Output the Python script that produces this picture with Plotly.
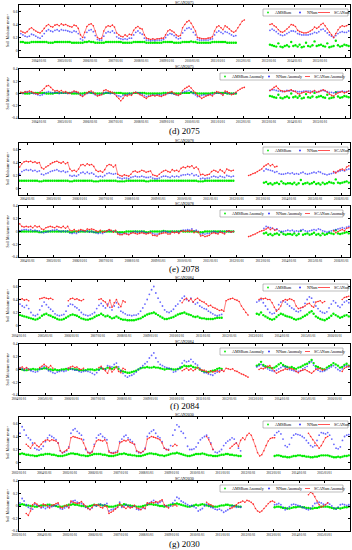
import pandas as pd
import plotly.graph_objects as go

N = None
W, H = 352, 550

# ---------------- data (monthly values, in 0.01 m3/m3) ----------------
# SCAN2075, months from 2003-04
scan_2075 = [30,28,27,29,33,35,32,30,28,
 27,30,34,38,40,37,36,39,40,38,41,39,
 40,38,37,36,39,38,34,24,20,28,37,40,
 41,38,30,20,18,19,30,36,38,37,39,36,
 27,24,22,21,24,22,25,24,31,35,37,34,
 33,24,19,18,17,18,17,18,18,19,19,24,
 30,32,30,28,24,22,23,35,40,44,46,42,
 36,30,20,19,18,18,18,19,19,21,30,36,
 38,35,32,38,36,33,30,28,30,35,40,45,
 47,N,N,N,N,N,N,N,N,N,N,N,
 40,41,38,36,32,29,28,30,33,36,40,39,
 37,31,29,28,27,27,28,30,32,36,34,36,
 40,42,38,33,28,24,20,26,32,36,38,37,
 38,40]
nn_2075 = [26,24,22,21,22,25,24,22,20,
 19,22,26,30,32,30,29,31,32,30,32,31,
 31,30,29,28,30,29,26,18,16,20,28,31,
 32,29,23,17,16,16,22,27,29,28,30,27,
 21,19,18,17,18,17,19,19,24,28,30,27,
 25,19,16,16,15,16,15,16,16,16,17,20,
 24,26,25,23,20,18,19,27,31,34,35,33,
 28,24,17,16,16,16,16,16,17,18,24,28,
 30,28,26,29,28,26,24,22,23,N,N,N,
 N,N,N,N,N,N,N,N,N,N,N,N,
 31,33,31,29,26,24,23,24,26,28,30,30,
 29,26,25,24,24,24,24,25,26,28,27,29,
 32,33,30,27,24,22,20,23,26,28,29,28,
 28,30]
amsr_2075 = [13,13,12,12,12,13,13,13,13,
 13,13,13,13,12,12,12,13,13,13,13,13,
 13,13,13,12,12,12,12,12,12,13,13,14,
 13,13,12,12,12,12,12,13,13,13,13,13,
 13,13,13,12,12,12,12,12,13,13,13,13,
 13,13,12,12,12,12,12,12,12,12,13,13,
 13,13,13,12,12,12,12,13,13,13,13,14,
 13,13,12,12,12,12,12,12,12,13,13,13,
 13,13,13,13,12,12,12,12,12,N,N,N,
 N,N,N,N,N,N,N,N,N,N,N,N,
 9,8,7,6,11,6,5,7,8,6,13,7,
 8,6,9,5,6,12,7,6,8,14,7,8,
 9,7,6,11,5,6,7,15,8,6,7,9,
 8,7]
scan_anom_2075 = [2,1,3,2,4,3,1,0,-1,
 2,5,8,12,13,10,6,4,5,3,5,2,
 3,1,0,2,4,3,2,-3,-5,-2,1,3,
 4,2,-1,-4,-3,-2,5,6,4,3,2,0,
 -5,-8,-12,-8,-3,-4,-2,-3,1,2,0,-2,
 -3,-6,-8,-5,-4,-3,-4,-3,-4,-5,-3,-2,
 1,2,3,0,-2,-3,-1,5,8,10,12,9,
 4,1,-3,-5,-8,-6,-4,-3,-2,-4,0,3,
 2,0,-3,4,3,1,-2,-1,2,5,7,9,
 10,N,N,N,N,N,N,N,N,N,N,N,
 5,7,10,12,8,5,4,3,4,5,6,4,
 3,0,-1,1,2,3,2,1,3,5,2,3,
 4,6,5,2,-1,-3,-4,-1,1,2,3,1,
 2,4]
nn_anom_2075 = [1,0,2,3,2,1,0,-1,-2,
 -3,-2,0,2,3,2,1,2,2,0,1,1,
 1,0,1,2,3,2,1,-2,-3,-1,0,1,
 2,0,-2,-3,-2,-1,1,2,1,0,1,-1,
 -3,-4,-5,-3,-2,-2,0,-1,1,2,1,0,
 -1,-3,-5,-4,-3,-2,-3,-2,-2,-3,-2,-1,
 0,1,0,-1,-2,-3,-1,2,3,4,5,3,
 0,-2,-5,-4,-3,-2,-3,-2,-1,-2,0,1,
 1,0,-1,2,1,0,-1,0,1,N,N,N,
 N,N,N,N,N,N,N,N,N,N,N,N,
 5,6,6,5,4,4,3,4,5,4,5,4,
 4,3,3,3,4,4,4,4,3,4,2,3,
 5,5,4,3,2,2,1,2,3,3,4,3,
 3,4]
amsr_anom_2075 = [1,1,0,0,0,1,1,1,1,
 1,1,1,0,0,0,0,1,1,1,1,1,
 1,1,1,0,0,0,0,0,0,1,1,2,
 1,1,0,0,0,0,0,1,1,1,1,1,
 1,1,1,0,0,0,0,0,1,1,1,1,
 1,1,0,0,0,0,0,0,0,0,1,1,
 1,1,1,0,0,0,0,1,1,1,1,2,
 1,1,0,0,0,0,0,0,0,1,1,1,
 1,1,1,1,0,0,0,0,0,N,N,N,
 N,N,N,N,N,N,N,N,N,N,N,N,
 -4,-5,-6,-7,-2,-7,-8,-6,-5,-7,0,-6,
 -5,-7,-4,-8,-7,-1,-6,-7,-5,1,-6,-5,
 -4,-6,-7,-2,-8,-7,-6,2,-5,-7,-6,-4,
 -5,-6]

# SCAN2078, months from 2003-09
scan_2078 = [33,38,41,42,
 41,42,40,41,39,40,32,30,33,35,38,40,
 41,42,40,39,41,38,40,30,27,28,26,30,
 36,37,35,38,36,37,34,28,26,27,25,29,
 35,37,36,33,36,22,20,19,21,20,19,22,
 26,27,25,26,28,27,25,26,27,21,20,19,
 22,25,27,28,26,25,29,27,28,26,31,33,
 32,34,33,35,31,33,30,21,22,20,21,22,
 26,28,27,25,29,27,24,30,28,27,28,N,
 N,N,N,N,N,20,21,23,24,26,28,30,
 34,36,38,35,37,33,34,N,N,N,N,N,
 N,N,N,N,N,N,N,N,N,N,N,N,
 N,N,N,N,N,N,N,N,26,24,27,29,
 30,28,33,35]
nn_2078 = [22,26,28,29,
 28,29,27,28,26,27,22,21,23,24,26,27,
 28,29,27,26,27,25,26,20,19,20,19,21,
 24,25,23,25,23,24,22,19,18,19,18,20,
 23,24,23,22,23,17,16,15,16,16,15,17,
 18,19,18,18,19,18,17,17,18,16,15,15,
 16,18,19,19,18,17,19,18,19,18,20,21,
 21,22,21,23,20,21,19,15,16,15,16,16,
 18,19,18,17,19,18,17,20,19,18,19,N,
 N,N,N,N,N,N,N,N,N,N,N,N,
 27,30,29,28,27,25,26,23,22,22,23,24,
 23,24,22,23,22,24,25,23,22,23,24,25,
 24,26,25,23,22,21,22,23,24,25,26,27,
 28,27,29,30]
amsr_2078 = [12,12,12,12,
 12,12,12,12,12,11,11,12,12,12,12,12,
 12,12,12,12,12,12,12,11,11,12,12,12,
 12,12,12,12,12,12,11,11,11,12,12,12,
 12,12,12,12,12,11,11,11,11,12,12,12,
 12,12,12,12,12,12,11,11,12,12,12,12,
 12,12,12,12,12,12,12,12,12,12,12,12,
 12,12,12,12,12,12,11,11,11,12,12,12,
 12,12,12,12,12,12,12,12,12,12,12,N,
 N,N,N,N,N,N,N,N,N,N,N,N,
 9,10,7,8,6,8,9,7,11,8,7,8,
 8,7,9,6,8,13,7,8,9,7,8,10,
 7,8,6,9,7,8,10,9,8,14,9,8,
 9,10,11,9]
scan_anom_2078 = [12,8,7,8,
 7,8,6,9,7,8,4,3,6,7,8,7,
 6,8,7,6,8,5,8,2,1,3,0,2,
 3,2,1,4,3,4,3,1,0,2,-1,0,
 1,3,2,-1,2,-4,-5,-5,-3,-4,-5,-3,
 -2,-3,-4,-3,-2,-3,-4,-3,-2,-6,-6,-7,
 -4,-3,-2,-2,-4,-4,-1,-2,-1,-3,0,1,
 0,1,0,2,-2,0,-1,-7,-6,-8,-7,-6,
 -3,-2,-3,-4,-1,-2,-4,0,1,-1,0,N,
 N,N,N,N,N,-8,-7,-5,-4,-2,0,1,
 2,4,6,3,5,2,3,N,N,N,N,N,
 N,N,N,N,N,N,N,N,N,N,N,N,
 N,N,N,N,N,N,N,N,1,-2,0,2,
 3,1,5,6]
nn_anom_2078 = [1,2,3,3,
 2,3,1,2,1,1,-1,-2,-1,0,1,2,
 2,3,1,0,1,0,1,-2,-3,-2,-3,-1,
 1,1,0,1,-1,0,-1,-2,-3,-2,-3,-1,
 1,2,1,0,1,-2,-3,-4,-3,-3,-4,-2,
 -1,0,-1,-1,0,-1,-2,-2,-1,-3,-4,-4,
 -3,-1,0,0,-1,-2,0,-1,0,-1,1,2,
 2,3,2,4,1,2,0,-4,-3,-4,-3,-3,
 -1,0,-1,-2,0,-1,-2,1,0,-1,0,N,
 N,N,N,N,N,N,N,N,N,N,N,N,
 5,8,7,6,5,3,4,1,0,0,1,2,
 1,2,0,1,0,2,3,1,0,1,2,3,
 2,4,3,1,0,-1,0,1,2,3,4,5,
 6,5,7,8]
amsr_anom_2078 = [0,0,0,0,
 0,0,0,0,0,-1,-1,0,0,0,0,0,
 0,0,0,0,0,0,0,-1,-1,0,0,0,
 0,0,0,0,0,0,-1,-1,-1,0,0,0,
 0,0,0,0,0,-1,-1,-1,-1,0,0,0,
 0,0,0,0,0,0,-1,-1,0,0,0,0,
 0,0,1,0,0,0,0,0,0,0,1,0,
 0,0,0,0,0,0,-1,-1,-1,0,0,0,
 0,0,0,0,0,0,0,0,0,0,0,N,
 N,N,N,N,N,N,N,N,N,N,N,N,
 -3,-2,-5,-4,-6,-4,-3,-5,-1,-4,-5,-4,
 -4,-5,-3,-6,-4,1,-5,-4,-3,-5,-4,-2,
 -5,-4,-6,-3,-5,-4,-2,-3,-4,2,-3,-4,
 -3,-2,-1,-3]

# SCAN2084, months from 2004-01
scan_2084 = [40,41,39,40,38,N,N,N,N,41,42,43,
 42,41,42,40,N,N,N,N,N,N,38,41,
 42,40,41,39,38,40,N,N,N,N,N,N,
 40,41,38,36,30,39,28,35,40,33,29,38,
 36,N,N,N,N,N,N,N,N,N,N,N,
 N,N,N,N,N,N,N,N,N,N,N,N,
 N,N,35,40,42,38,41,36,40,42,39,37,
 36,33,30,31,28,27,25,23,24,22,38,40,
 41,42,40,39,37,30,25,20,16,N,N,N,
 N,40,42,41,42,40,40,35,28,22,25,30,
 38,40,39,41,40,38,30,26,27,28,30,33,
 34,30,28,36,37,38,35,37,N,N,N,N,
 N,N,N,40,43,44,45]
nn_2084 = [33,30,28,31,26,20,16,15,17,24,30,36,
 32,28,25,22,18,16,15,16,17,22,30,33,
 32,29,27,24,20,17,16,15,16,18,20,26,
 31,34,30,27,33,28,24,30,35,28,22,20,
 18,16,16,15,16,16,18,22,27,33,40,48,
 55,60,50,42,36,30,24,21,20,22,25,30,
 33,38,42,45,40,38,42,36,33,35,30,28,
 26,25,22,20,18,16,15,16,17,N,N,N,
 N,N,N,N,N,N,N,N,N,N,N,N,
 36,38,40,35,30,25,20,18,19,24,32,36,
 38,36,33,30,27,25,22,21,23,28,34,40,
 44,42,36,30,26,22,20,19,21,27,33,38,
 35,30,28,32,36,38,35]
amsr_2084 = [16,15,14,13,12,11,10,9,10,12,15,17,
 18,16,15,13,12,10,9,9,10,12,14,16,
 17,16,15,13,11,10,9,9,10,11,13,15,
 16,18,16,14,15,13,11,12,14,12,10,9,
 9,8,8,8,8,9,10,11,13,15,17,18,
 19,20,18,16,14,12,10,10,11,12,13,15,
 17,18,19,20,18,17,16,14,13,14,12,11,
 11,10,10,10,10,11,12,12,12,N,N,N,
 N,N,N,N,N,N,N,N,N,N,N,N,
 18,17,20,16,14,12,10,9,10,13,16,18,
 17,15,14,13,12,10,9,10,11,13,15,17,
 20,22,18,14,12,10,9,8,10,12,15,18,
 16,14,12,13,15,16,14]
scan_anom_2084 = [2,4,1,3,0,N,N,N,N,3,5,8,
 5,3,6,2,N,N,N,N,N,N,2,4,
 5,3,4,1,0,2,N,N,N,N,N,N,
 3,5,1,-2,-6,3,-4,0,4,-3,-5,2,
 0,N,N,N,N,N,N,N,N,N,N,N,
 N,N,N,N,N,N,N,N,N,N,N,N,
 N,N,-2,0,2,-1,1,-2,0,3,0,-1,
 -1,-3,-5,-2,-4,-3,-2,-4,-1,-3,2,1,
 0,1,-2,-3,-5,-7,-8,-10,-12,N,N,N,
 N,0,2,1,3,5,6,2,-2,-6,-4,-2,
 -1,1,0,2,1,0,-3,-5,-2,-1,0,-2,
 -4,-6,-3,0,1,2,-1,0,N,N,N,N,
 N,N,N,-3,2,4,5]
nn_anom_2084 = [3,1,-1,2,0,-2,-3,-4,-3,0,2,5,
 1,-2,-3,-5,-6,-4,-3,-2,-3,-2,2,1,
 0,-1,-1,-3,-4,-3,-2,-3,-4,-6,-8,-5,
 -1,3,1,0,6,5,4,8,10,4,-2,-6,
 -10,-12,-10,-9,-7,-4,0,3,6,9,12,18,
 22,26,18,12,8,6,4,3,2,0,-4,-3,
 0,4,10,14,12,13,16,12,9,7,2,-2,
 -5,-5,-7,-8,-9,-6,-4,-2,-1,N,N,N,
 N,N,N,N,N,N,N,N,N,N,N,N,
 4,6,8,5,3,1,-1,-2,-3,-1,1,3,
 5,4,3,0,-1,-2,-3,-3,-2,1,3,5,
 10,12,7,2,-1,-3,-3,-2,0,2,4,6,
 3,0,-2,1,5,6,4]
amsr_anom_2084 = [1,0,-1,-1,0,0,1,0,0,1,1,2,
 2,0,0,-1,0,-1,-1,0,0,1,0,1,
 1,0,0,-1,-1,-1,-1,0,0,0,-1,0,
 0,2,1,1,3,2,1,3,4,1,-2,-3,
 -4,-5,-5,-4,-3,-2,0,2,3,3,4,3,
 3,4,3,3,2,1,0,1,1,1,0,0,
 1,2,4,6,5,5,6,4,3,3,0,-2,
 -3,-4,-4,-3,-2,-1,1,2,1,N,N,N,
 N,N,N,N,N,N,N,N,N,N,N,N,
 6,8,12,7,5,4,3,2,3,5,8,10,
 7,5,4,3,4,2,1,3,4,6,8,9,
 12,15,10,5,4,2,1,0,3,5,7,10,
 8,6,3,4,7,9,6]

# SCAN2030, months from 2003-01
scan_2030 = [N,N,N,28,25,22,27,30,26,24,28,32,
 34,35,33,35,34,33,30,18,15,17,19,22,
 38,40,39,38,37,36,30,22,15,14,16,25,
 33,35,34,33,35,30,16,15,14,15,16,30,
 32,34,33,35,31,30,28,18,16,15,17,20,
 36,38,40,39,38,37,35,30,22,20,19,N,
 25,28,26,N,N,N,N,N,N,N,N,N,
 N,N,N,N,40,35,28,20,N,N,N,N,
 N,N,N,22,25,28,30,25,34,38,35,42,
 45,42,35,25,15,10,12,18,26,33,37,38,
 38,N,N,N,N,N,N,N,N,N,N,N,
 N,N,N,N,45,40,35,30,26,22,26,32,
 38,40,N,N,N,N,N,N,N,N,N,N]
nn_2030 = [45,55,50,42,38,35,30,22,20,19,21,25,
 32,38,42,40,38,35,30,18,15,16,18,24,
 45,50,52,48,45,42,35,20,16,15,17,28,
 38,42,44,40,38,35,18,15,15,16,18,32,
 36,40,42,38,35,32,28,17,15,15,17,22,
 40,45,48,50,45,40,38,32,22,20,20,26,
 42,50,58,55,48,45,38,25,20,20,21,24,
 30,35,38,40,42,38,30,20,16,15,17,20,
 26,30,33,35,38,36,30,22,18,N,N,N,
 N,N,N,N,N,N,N,N,N,N,N,N,
 42,46,48,44,36,26,24,28,38,42,44,43,
 42,40,38,34,30,26,24,26,34,42,46,45,
 44,46,42,36,28,22,21,24,34,40,42,43]
amsr_2030 = [13,14,13,12,12,11,11,10,10,11,12,12,
 13,13,13,12,12,11,10,10,10,11,12,13,
 14,14,13,13,12,11,11,10,10,11,12,13,
 13,13,13,12,12,11,10,10,10,11,12,13,
 13,14,13,12,12,11,11,10,10,10,11,12,
 13,14,14,13,13,12,11,11,10,11,12,13,
 14,14,15,14,13,12,11,10,10,11,12,13,
 13,13,14,13,12,11,11,10,10,10,11,12,
 12,13,13,12,12,11,11,10,10,N,N,N,
 N,N,N,N,N,N,N,N,N,N,N,N,
 10,11,11,10,9,9,8,8,9,10,10,11,
 11,10,10,9,9,8,8,9,9,10,11,11,
 11,11,10,9,8,8,9,8,9,10,10,11]
scan_anom_2030 = [N,N,N,-12,-15,-8,2,5,3,0,-2,3,
 2,0,-3,1,2,4,5,-2,-3,0,1,-3,
 8,6,5,4,5,7,3,0,-4,-6,-2,2,
 2,1,-2,-3,0,-1,-12,-10,-8,-5,-2,4,
 0,-2,-4,-1,-3,-2,1,-3,-4,-6,-2,-4,
 5,4,6,5,7,6,8,10,2,-1,-3,N,
 0,2,0,N,N,N,N,N,N,N,N,N,
 N,N,N,N,6,3,2,0,N,N,N,N,
 N,N,N,-4,-3,-1,2,5,6,8,6,9,
 8,6,3,-4,-8,-10,-8,-4,0,4,7,8,
 6,N,N,N,N,N,N,N,N,N,N,N,
 N,N,N,N,18,22,20,15,8,2,-2,0,
 2,5,N,N,N,N,N,N,N,N,N,N]
nn_anom_2030 = [5,12,8,2,-2,-4,-5,3,1,0,-3,-2,
 -4,-2,0,-1,0,1,3,-4,-5,-3,-1,-2,
 6,8,9,6,5,4,2,-2,-4,-5,-3,1,
 0,2,3,1,2,4,-8,-6,-5,-4,-2,6,
 -2,0,2,0,-1,-2,0,-5,-6,-5,-3,-4,
 3,5,7,9,6,4,6,8,1,0,-2,0,
 5,9,14,12,8,6,4,2,0,1,-1,-3,
 -8,-6,-4,0,3,1,-2,-3,-5,-6,-5,-7,
 -10,-8,-6,-4,0,0,-2,-1,-2,N,N,N,
 N,N,N,N,N,N,N,N,N,N,N,N,
 2,3,4,2,-2,-6,-4,-1,2,3,2,1,
 0,-2,-3,-5,-6,-4,0,4,5,6,5,3,
 2,5,3,0,-3,-5,-2,2,3,2,1,2]
amsr_anom_2030 = [2,3,2,1,1,0,0,-1,-1,0,1,1,
 1,2,2,1,1,0,-1,-1,-1,0,1,2,
 2,3,2,2,1,0,0,-1,-1,0,1,2,
 1,2,2,1,1,0,-1,-1,-1,0,1,2,
 1,3,2,1,1,0,0,-1,-1,-1,0,1,
 2,3,3,2,2,1,0,0,-1,0,1,2,
 3,3,4,3,2,1,0,-1,-1,0,1,2,
 1,2,3,2,1,0,0,-1,-1,-1,0,1,
 1,2,2,1,1,0,0,-1,-1,N,N,N,
 N,N,N,N,N,N,N,N,N,N,N,N,
 -2,-1,-1,-2,-3,-3,-4,-4,-3,-2,-2,-1,
 -1,-2,-2,-3,-3,-4,-4,-3,-3,-2,-1,-1,
 -1,-1,-2,-3,-4,-4,-3,-4,-3,-2,-2,-1]

site_names = ["SCAN2075", "SCAN2078", "SCAN2084", "SCAN2030"]
captions = ["(d) 2075", "(e) 2078", "(f) 2084", "(g) 2030"]
legend_sm = ["AMSRsm", "NNsm", "SCANsm"]
legend_anom = ["AMSRsm Anomaly", "NNsm Anomaly", "SCANsm Anomaly"]
y_title = "Soil Moisture m³/m³"

# ---------------- layout geometry (pixels) ----------------
X0, X1 = 19, 350
panels = [
    # name, first month, x range, kind, amsr, nn, scan, top px, bottom px
    ("SCAN2075", "2003-04-01", ["2003-03-20", "2016-03-05"], "sm", amsr_2075, nn_2075, scan_2075, 5, 57),
    ("SCAN2075", "2003-04-01", ["2003-03-20", "2016-03-05"], "anom", amsr_anom_2075, nn_anom_2075, scan_anom_2075, 69, 118),
    ("SCAN2078", "2003-09-01", ["2003-09-05", "2016-05-01"], "sm", amsr_2078, nn_2078, scan_2078, 143, 195),
    ("SCAN2078", "2003-09-01", ["2003-09-05", "2016-05-01"], "anom", amsr_anom_2078, nn_anom_2078, scan_anom_2078, 206, 257),
    ("SCAN2084", "2004-01-01", ["2004-01-01", "2016-08-01"], "sm", amsr_2084, nn_2084, scan_2084, 280, 332),
    ("SCAN2084", "2004-01-01", ["2004-01-01", "2016-08-01"], "anom", amsr_anom_2084, nn_anom_2084, scan_anom_2084, 344, 395),
    ("SCAN2030", "2003-01-01", ["2003-01-01", "2016-01-01"], "sm", amsr_2030, nn_2030, scan_2030, 417, 469),
    ("SCAN2030", "2003-01-01", ["2003-01-01", "2016-01-01"], "anom", amsr_anom_2030, nn_anom_2030, scan_anom_2030, 481, 531),
]
caption_y = [131, 269, 406, 544]

SERIF = "Liberation Serif, Times New Roman, serif"
GREEN, BLUE, RED = "rgb(0,235,0)", "rgb(40,40,255)", "rgb(255,40,40)"


def fx(px):
    return px / W


def fy(py):
    return 1 - py / H


def months(start, n):
    return pd.date_range(start, periods=n, freq="MS") + pd.Timedelta(days=14)


def scale(vals):
    return [v / 100 if v is not None else None for v in vals]


fig = go.Figure()
layout = dict(width=W, height=H, margin=dict(l=0, r=0, t=0, b=0),
              paper_bgcolor="white", plot_bgcolor="white", showlegend=False)
annotations, shapes = [], []

for i, (name, start, xr, kind, amsr, nn, scan, top, bot) in enumerate(panels, start=1):
    xa = "x" if i == 1 else f"x{i}"
    ya = "y" if i == 1 else f"y{i}"
    fig.add_trace(go.Scatter(x=months(start, len(amsr)), y=scale(amsr), xaxis=xa, yaxis=ya,
                             mode="markers", marker=dict(size=2.4, color=GREEN),
                             hoverinfo="skip"))
    fig.add_trace(go.Scatter(x=months(start, len(nn)), y=scale(nn), xaxis=xa, yaxis=ya,
                             mode="markers", marker=dict(size=1.8, color=BLUE, opacity=0.7),
                             hoverinfo="skip"))
    fig.add_trace(go.Scatter(x=months(start, len(scan)), y=scale(scan), xaxis=xa, yaxis=ya,
                             mode="lines+markers", line=dict(color=RED, width=0.6),
                             marker=dict(size=1.6, color=RED), hoverinfo="skip"))
    common = dict(showline=True, linecolor="black", linewidth=0.6, mirror="ticks",
                  ticks="inside", ticklen=2, tickwidth=0.5, tickcolor="black",
                  showgrid=False, zeroline=False, automargin=False)
    layout["xaxis" if i == 1 else f"xaxis{i}"] = dict(
        domain=[fx(X0), fx(X1)], anchor=ya, type="date", range=xr,
        tickformat="%Y/%m/%d", dtick="M12", tick0="2003-01-01",
        tickfont=dict(family=SERIF, size=3.2, color="black"), **common)
    if kind == "sm":
        yd = dict(range=[-0.1, 0.7], tickvals=[0, 0.2, 0.4, 0.6], ticktext=["0", "0.2", "0.4", "0.6"])
    else:
        yd = dict(range=[-0.4, 0.4], tickvals=[-0.4, -0.2, 0, 0.2, 0.4],
                  ticktext=["-0.4", "-0.2", "0", "0.2", "0.4"])
    layout["yaxis" if i == 1 else f"yaxis{i}"] = dict(
        domain=[fy(bot), fy(top)], anchor=xa,
        tickfont=dict(family=SERIF, size=3.6, color="black"), **yd, **common)

    # panel title
    annotations.append(dict(text=name, x=fx((X0 + X1) / 2), y=fy(top - 2.2), xref="paper", yref="paper",
                            showarrow=False, font=dict(family=SERIF, size=4, color="black"),
                            xanchor="center", yanchor="middle"))
    # y-axis title
    annotations.append(dict(text=y_title, x=fx(7), y=fy((top + bot) / 2),
                            xref="paper", yref="paper", showarrow=False, textangle=-90,
                            font=dict(family=SERIF, size=4, color="black"),
                            xanchor="center", yanchor="middle"))
    # legend box
    if kind == "sm":
        lx0, lx1, labels = 263, 348, legend_sm
        gl = [(268, 273), (300, 305), (318, 332)]
    else:
        lx0, lx1, labels = 220, 343, legend_anom
        gl = [(225, 230), (269, 274), (305, 312)]
    ly0, ly1 = top + 4, top + 11
    lyc = (ly0 + ly1) / 2
    shapes.append(dict(type="rect", xref="paper", yref="paper", x0=fx(lx0), x1=fx(lx1),
                       y0=fy(ly1), y1=fy(ly0), line=dict(color="rgb(120,120,120)", width=0.5),
                       fillcolor="white", layer="above"))
    colors = [GREEN, BLUE, RED]
    for k, ((gx, tx), lab, col) in enumerate(zip(gl, labels, colors)):
        if k < 2:
            shapes.append(dict(type="circle", xref="paper", yref="paper", x0=fx(gx - 0.9), x1=fx(gx + 0.9),
                               y0=fy(lyc + 0.9), y1=fy(lyc - 0.9), fillcolor=col, line=dict(width=0),
                               layer="above"))
        else:
            shapes.append(dict(type="line", xref="paper", yref="paper", x0=fx(gx), x1=fx(tx - 2),
                               y0=fy(lyc), y1=fy(lyc), line=dict(color=col, width=0.8), layer="above"))
        annotations.append(dict(text=lab, x=fx(tx), y=fy(lyc), xref="paper", yref="paper",
                                showarrow=False, xanchor="left", yanchor="middle",
                                font=dict(family=SERIF, size=4, color="black")))

for cap, cy in zip(captions, caption_y):
    annotations.append(dict(text=cap, x=fx((X0 + X1) / 2), y=fy(cy), xref="paper", yref="paper",
                            showarrow=False, xanchor="center", yanchor="middle",
                            font=dict(family=SERIF, size=9, color="black")))

layout["annotations"] = annotations
layout["shapes"] = shapes
fig.update_layout(**layout)
fig.write_html("out.html", config={"displayModeBar": False},
               post_script="document.body.style.margin='0';document.body.style.overflow='hidden';")
